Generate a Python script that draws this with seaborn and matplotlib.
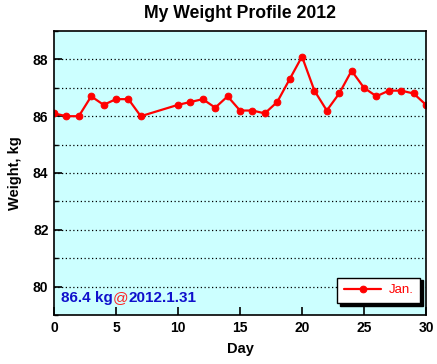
import matplotlib
matplotlib.use("Agg")
import matplotlib.pyplot as plt
import seaborn as sns
import pandas as pd
from matplotlib.ticker import MultipleLocator

days = [0, 1, 2, 3, 4, 5, 6, 7, 10, 11, 12, 13, 14, 15, 16, 17, 18, 19, 20,
        21, 22, 23, 24, 25, 26, 27, 28, 29, 30]
weights = [86.1, 86.0, 86.0, 86.7, 86.4, 86.6, 86.6, 86.0, 86.4, 86.5, 86.6,
           86.3, 86.7, 86.2, 86.2, 86.1, 86.5, 87.3, 88.1, 86.9, 86.2, 86.8,
           87.6, 87.0, 86.7, 86.9, 86.9, 86.8, 86.4]
series_label = "Jan."
title = "My Weight Profile 2012"
x_label = "Day"
y_label = "Weight, kg"
note_value = "86.4 kg"
note_at = "@"
note_date = "2012.1.31"

sns.set_style("ticks")
plt.rcParams['font.family'] = ['Liberation Sans', 'DejaVu Sans']
plt.rcParams['font.weight'] = 'bold'
plt.rcParams['text.color'] = 'black'
plt.rcParams['axes.labelcolor'] = 'black'
plt.rcParams['xtick.color'] = 'black'
plt.rcParams['ytick.color'] = 'black'

df = pd.DataFrame({"Day": days, "Weight": weights, "Month": series_label})

fig = plt.figure(figsize=(4.37, 3.64), dpi=100)
ax = fig.add_axes([54/437, 1-315/364, (426-54)/437, (315-31)/364])
ax.set_facecolor("#CCFFFF")

sns.lineplot(data=df, x="Day", y="Weight", hue="Month", palette=["#FF0000"],
             marker="o", markersize=4.8, markeredgecolor="#FF0000",
             linewidth=1.6, ax=ax, legend=True)

ax.set_xlim(0, 30)
ax.set_ylim(79, 89)
ax.xaxis.set_major_locator(MultipleLocator(5))
ax.yaxis.set_major_locator(MultipleLocator(2))
ax.yaxis.set_minor_locator(MultipleLocator(1))
for y in range(80, 89):
    ax.axhline(y, color="black", linestyle=(0, (1, 2)), linewidth=0.9, zorder=0.5)

ax.tick_params(axis="both", which="major", direction="in", length=6, width=1.2,
               labelsize=10, colors="black", labelcolor="black", pad=4)
ax.tick_params(axis="y", which="minor", direction="in", length=3, width=1)
for lbl in ax.get_xticklabels() + ax.get_yticklabels():
    lbl.set_fontweight("bold")
for s in ax.spines.values():
    s.set_linewidth(1.2)
    s.set_color("black")

ax.set_title(title, fontsize=12.7, fontweight="bold", pad=9, color="black")
ax.set_xlabel(x_label, fontsize=10.5, fontweight="bold", labelpad=5, color="black")
ax.set_ylabel(y_label, fontsize=10.5, fontweight="bold", labelpad=8, color="black")

leg = ax.legend(loc="lower right", bbox_to_anchor=(0.985, 0.042), frameon=True,
                fancybox=False, shadow={"color": "black", "alpha": 1},
                edgecolor="black", framealpha=1, fontsize=9.5,
                handlelength=2.8, handletextpad=0.6, borderpad=0.5, borderaxespad=0)
leg.get_frame().set_linewidth(1)
for t in leg.get_texts():
    t.set_color("#FF0000")
    t.set_fontweight("normal")

t1 = ax.text(0.02, 0.06, note_value, transform=ax.transAxes, color="#1010CC",
             fontsize=11, fontweight="bold", va="center", ha="left")
t2 = ax.annotate(note_at, xy=(1, 0.5), xycoords=t1, color="#FF2020",
                 fontsize=11, fontweight="normal", va="center", ha="left")
t3 = ax.annotate(note_date, xy=(1, 0.5), xycoords=t2, color="#1010CC",
                 fontsize=11, fontweight="bold", va="center", ha="left")

fig.savefig("out.png", dpi=100)
